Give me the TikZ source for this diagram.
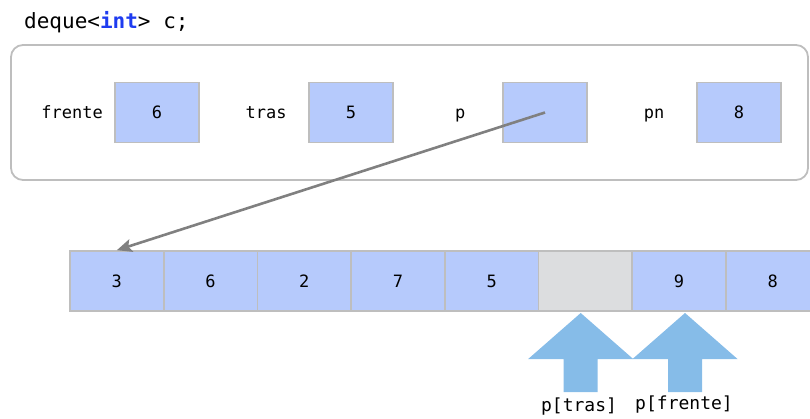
\documentclass[tikz,border=0pt]{standalone}
\usepackage{fontspec}
\setmonofont{DejaVu Sans Mono}
\usepackage{tikz}
\usetikzlibrary{arrows.meta,positioning,calc}
\definecolor{cellblue}{RGB}{182,202,252}
\definecolor{cellgray}{RGB}{220,221,223}
\definecolor{edgegray}{RGB}{190,190,190}
\definecolor{ptrgray}{RGB}{128,128,128}
\definecolor{markblue}{RGB}{134,188,232}
\definecolor{kwblue}{RGB}{30,60,240}
\tikzset{
  varbox/.style={rectangle,draw=edgegray,fill=cellblue,line width=1.6pt,
    minimum width=84pt,minimum height=60pt,inner sep=0pt,
    font=\ttfamily\fontsize{17}{20}\selectfont},
  varname/.style={font=\ttfamily\fontsize{17}{20}\selectfont,inner sep=0pt,
    text height=13pt,text depth=0pt},
  cellbox/.style={varbox,minimum width=93.7pt},
  objframe/.style={rectangle,draw=edgegray,line width=1.8pt,
    rounded corners=12pt,minimum width=797pt,minimum height=135pt},
  ptr/.style={-{Stealth[length=15pt,width=13pt,inset=3pt]},
    line width=2.6pt,color=ptrgray},
  idxlabel/.style={font=\ttfamily\fontsize{18}{21}\selectfont,inner sep=0pt},
  uparrow/.pic={\fill[markblue] (0,0) -- (52.5,-46) -- (17,-46) -- (17,-79)
    -- (-17,-79) -- (-17,-46) -- (-52.5,-46) -- cycle;}
}

\begin{document}
\begin{tikzpicture}[x=1pt,y=1pt]
  \clip (0,0) rectangle (810,-419);
  % Declaration
  \node[anchor=base west,inner sep=0pt,
        font=\ttfamily\fontsize{21}{24}\selectfont] (title) at (24,-29)
        {deque<\textcolor{kwblue}{\textbf{int}}> c;};
  % Object with its members
  \node[objframe] (obj) at (409.5,-112.5) {};
  \foreach \nm/\lab/\val/\x in {fr/frente/6/157,tr/tras/5/351,p/p/{}/545,pn/pn/8/739}{
    \node[varbox] (\nm) at (\x,-112.5) {\val};
    \node[varname] (\nm-lab) at ($(\nm.west)+(-42,0)$) {\lab};
  }

  % Array of elements
  \foreach \v/\f [count=\i] in {3/cellblue,6/cellblue,2/cellblue,7/cellblue,
                               5/cellblue,{}/cellgray,9/cellblue,8/cellblue}
    \node[cellbox,fill=\f] (c\i) at ({70+93.7*(\i-0.5)},-281) {\v};

  % Pointer p
  \draw[ptr] (p.center) -- (c1.north);

  % Index markers
  \coordinate (tras-tip) at (580.7,-313);
  \coordinate (frente-tip) at (685,-313);
  \pic at (tras-tip) {uparrow};
  \pic at (frente-tip) {uparrow};
  \node[idxlabel,anchor=base] (tras-lab) at (579,-411) {p[tras]};
  \node[idxlabel,anchor=base] (frente-lab) at (684,-409) {p[frente]};
\end{tikzpicture}
\end{document}
